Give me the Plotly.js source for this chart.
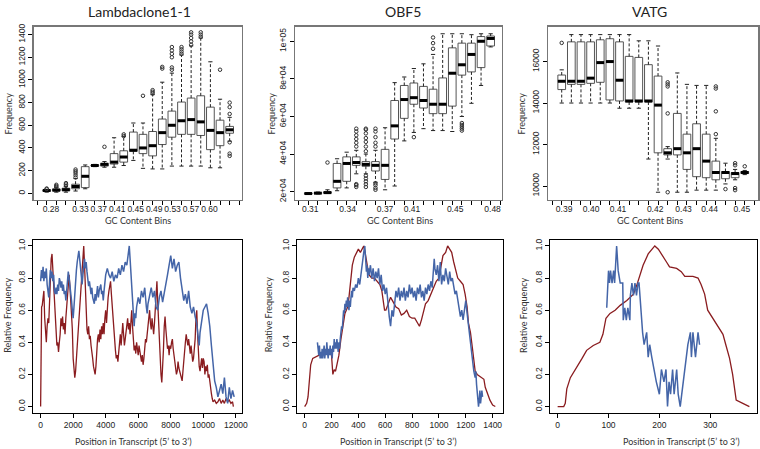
<!DOCTYPE html>
<html>
<head>
<meta charset="utf-8">
<script src="https://cdn.plot.ly/plotly-3.0.1.min.js"></script>
<style>
  html, body { margin: 0; padding: 0; background: #fff; }
  #chart { width: 760px; height: 449px; }
</style>
</head>
<body>
<div id="chart"></div>
<script>
// ---- top row: box statistics per GC content bin (bins numbered 1..20) ----
const lamQ1  = [18, 20, 22, 40, 50, 240, 240, 258, 275, 370, 350, 330, 430, 495, 520, 520, 510, 385, 420, 530];
const lamMed = [25, 28, 32, 60, 150, 245, 255, 275, 320, 380, 400, 420, 535, 600, 640, 650, 630, 555, 535, 560];
const lamQ3  = [30, 38, 45, 80, 235, 250, 265, 350, 375, 540, 520, 545, 655, 725, 805, 840, 860, 760, 645, 590];
const lamLo  = [10, 10, 10, 20, 40, 235, 230, 230, 245, 290, 220, 215, 215, 240, 240, 240, 240, 225, 225, 460];
const lamHi  = [35, 50, 60, 130, 250, 255, 280, 490, 500, 620, 620, 870, 980, 1060, 1220, 1300, 1370, 1160, 830, 670];
const lamOutBin = [1, 1, 2, 2, 2, 3, 3, 3, 4, 4, 4, 4, 4, 7, 9, 9, 11, 12, 12, 12, 13, 13,
  14, 14, 14, 14, 14, 14, 15, 15, 15, 15, 16, 16, 16, 16, 16, 17, 17, 17, 19, 20, 20, 20, 20, 20, 20];
const lamOutVal = [38, 42, 55, 65, 75, 65, 78, 90, 140, 160, 180, 195, 210, 410, 505, 520, 860, 880, 895, 910, 1100, 1115,
  1090, 1110, 1200, 1230, 1260, 1290, 1230, 1250, 1270, 1290, 1310, 1340, 1370, 1400, 1420, 1380, 1400, 1420, 1090, 330, 350, 450, 700, 760, 800];
const lamBinLabels = ['0.28', '0.33', '0.37', '0.41', '0.45', '0.49', '0.53', '0.57', '0.60'];

const obfQ1  = [18800, 19000, 19200, 22000, 25500, 34000, 33500, 31000, 26500, 48000, 59000, 66500, 64500, 61500, 61500, 65500, 82000, 83700, 86000, 97500];
const obfMed = [19000, 19200, 19500, 25500, 35000, 35500, 34500, 34000, 34000, 55000, 69000, 70000, 68500, 66500, 66500, 83000, 87500, 93000, 100000, 101500];
const obfQ3  = [19200, 19500, 19900, 35000, 38500, 38500, 36000, 36000, 42500, 68500, 76500, 77800, 76000, 74500, 80500, 96500, 99000, 99000, 102500, 102800];
const obfLo  = [18600, 18800, 19000, 20500, 22000, 29500, 29500, 25000, 21000, 23000, 47000, 51500, 53500, 52500, 52500, 52000, 60000, 67000, 76500, 97000];
const obfHi  = [19400, 19800, 21000, 37500, 41000, 42000, 40000, 42000, 54000, 78000, 81000, 85500, 88000, 93000, 104000, 104000, 104000, 103500, 104000, 104000];
const obfOutBin = [3, 6, 6, 6, 6, 6, 6, 6, 6, 6, 7, 7, 7, 7, 7, 7, 7, 7, 7, 7, 7, 7,
  8, 8, 8, 8, 8, 8, 8, 8, 8, 12, 14, 14, 14, 17, 17, 17, 17, 17];
const obfOutVal = [35500, 44000, 46000, 48000, 50000, 52000, 53500, 22500, 23500, 24000, 41500, 44000, 46500, 48500, 51000, 53000, 53500, 22500, 24000, 25500, 27000, 28500,
  44000, 46000, 49000, 52000, 53500, 21000, 22000, 23500, 24500, 49000, 96000, 99000, 102000, 52500, 53500, 54500, 55500, 56500];
const obfBinLabels = ['0.31', '0.34', '0.37', '0.41', '0.45', '0.48'];

const vatQ1  = [14650, 14900, 14900, 14950, 15000, 14150, 14100, 14050, 14050, 14050, 11600, 11500, 11500, 10800, 10450, 10400, 10300, 10350, 10400, 10600];
const vatMed = [15050, 15050, 15050, 15200, 15950, 16000, 15100, 14100, 14100, 14100, 13900, 11600, 11800, 11600, 11800, 11200, 10650, 10650, 10600, 10650];
const vatQ3  = [15350, 16950, 16950, 16950, 17050, 17100, 16950, 16250, 16200, 15850, 15300, 11800, 13500, 12500, 13000, 12500, 11200, 10700, 10650, 10700];
const vatLo  = [14000, 14000, 14000, 14000, 14000, 14000, 13750, 13750, 13750, 11300, 9700, 11300, 9700, 9700, 9800, 9800, 9800, 10100, 10300, 10550];
const vatHi  = [15600, 17300, 17300, 17300, 17300, 17300, 17300, 17300, 17000, 17000, 16750, 11900, 15450, 14900, 14850, 14850, 12300, 11100, 10800, 10750];
const vatOutBin = [1, 12, 12, 12, 12, 12, 17, 17, 17, 17, 18, 19, 19, 19, 19, 20];
const vatOutVal = [16900, 15000, 14900, 14800, 13500, 9700, 14800, 14700, 13600, 12500, 9850, 11100, 11000, 9900, 9800, 10950];
const vatBinLabels = ['0.39', '0.40', '0.41', '0.42', '0.43', '0.44', '0.45'];

// ---- bottom row: relative coverage along the transcript ----
const lamRedX = [0, 30, 60, 100, 150, 200, 250, 300, 350, 400, 450, 500, 550, 600, 650, 700, 750, 800, 850, 900, 950, 1000, 1050, 1100, 1150, 1200, 1250, 1300, 1350, 1400, 1450, 1500, 1550, 1600, 1650, 1700, 1750, 1800, 1850, 1900, 1950,
  2000, 2050, 2100, 2150, 2200, 2250, 2300, 2350, 2400, 2450, 2500, 2550, 2600, 2650, 2700, 2750, 2800, 2850, 2900, 2950, 3000, 3050, 3100, 3150, 3200, 3250, 3300, 3350, 3400, 3450, 3500, 3550, 3600, 3650, 3700, 3750, 3800, 3850, 3900, 3950,
  4000, 4050, 4100, 4150, 4200, 4250, 4300, 4350, 4400, 4450, 4500, 4550, 4600, 4650, 4700, 4750, 4800, 4850, 4900, 4950, 5000, 5050, 5100, 5150, 5200, 5300, 5350, 5400, 5450, 5500, 5550, 5600, 5650, 5700, 5750, 5800, 5850, 5900, 5950,
  6000, 6050, 6100, 6150, 6200, 6250, 6300, 6350, 6400, 6450, 6500, 6550, 6600, 6650, 6700, 6750, 6800, 6850, 6900, 6950, 7000, 7050, 7100, 7150, 7200, 7250, 7300, 7350, 7400, 7450, 7500, 7550, 7600, 7650, 7700, 7750, 7800, 7850, 7900, 7950,
  8000, 8050, 8100, 8150, 8200, 8250, 8300, 8350, 8400, 8450, 8500, 8550, 8600, 8650, 8700, 8750, 8800, 8850, 8900, 8950, 9000, 9050, 9100, 9150, 9200, 9250, 9300, 9350, 9400, 9450, 9500, 9550, 9600, 9650, 9700, 9750, 9800, 9850, 9900, 9950,
  10000, 10050, 10100, 10150, 10200, 10250, 10300, 10350, 10400, 10450, 10500, 10550, 10600, 10700, 10800, 10900, 11000, 11100, 11200, 11300, 11400, 11500, 11600, 11700, 11800, 11850];
const lamRedY = [0, 0.4, 0.62, 0.63, 0.7, 0.72, 0.55, 0.42, 0.4, 0.5, 0.55, 0.52, 0.7, 0.78, 0.92, 0.95, 0.85, 0.72, 0.62, 0.55, 0.5, 0.38, 0.4, 0.34, 0.4, 0.45, 0.55, 0.5, 0.56, 0.48, 0.52, 0.45, 0.55, 0.62, 0.7, 0.8, 0.82, 0.75, 0.68, 0.6, 0.48,
  0.3, 0.2, 0.18, 0.22, 0.3, 0.4, 0.42, 0.55, 0.62, 0.7, 0.8, 0.88, 0.95, 1.0, 0.88, 0.72, 0.58, 0.48, 0.45, 0.5, 0.42, 0.44, 0.38, 0.35, 0.3, 0.25, 0.22, 0.2, 0.25, 0.35, 0.42, 0.45, 0.4, 0.48, 0.42, 0.5, 0.45, 0.52, 0.45, 0.55,
  0.6, 0.52, 0.62, 0.68, 0.72, 0.76, 0.78, 0.7, 0.62, 0.55, 0.48, 0.4, 0.35, 0.3, 0.32, 0.28, 0.35, 0.42, 0.45, 0.38, 0.48, 0.52, 0.45, 0.38, 0.42, 0.5, 0.55, 0.48, 0.52, 0.45, 0.55, 0.6, 0.5, 0.42, 0.35, 0.38, 0.33, 0.4, 0.36,
  0.32, 0.38, 0.35, 0.3, 0.28, 0.32, 0.26, 0.3, 0.36, 0.42, 0.4, 0.45, 0.5, 0.55, 0.6, 0.52, 0.48, 0.55, 0.5, 0.45, 0.52, 0.62, 0.72, 0.78, 0.65, 0.52, 0.4, 0.3, 0.2, 0.15, 0.22, 0.35, 0.5, 0.56, 0.48, 0.4, 0.36, 0.38, 0.32, 0.38,
  0.36, 0.4, 0.42, 0.36, 0.32, 0.28, 0.25, 0.2, 0.22, 0.28, 0.24, 0.22, 0.2, 0.18, 0.16, 0.22, 0.3, 0.36, 0.4, 0.45, 0.42, 0.38, 0.42, 0.36, 0.33, 0.38, 0.32, 0.28, 0.3, 0.35, 0.42, 0.55, 0.6, 0.45, 0.32, 0.25, 0.22, 0.28, 0.3, 0.24,
  0.3, 0.28, 0.2, 0.25, 0.22, 0.26, 0.18, 0.2, 0.15, 0.12, 0.08, 0.05, 0.03, 0.04, 0.02, 0.03, 0.05, 0.02, 0.04, 0.02, 0.05, 0.03, 0.04, 0.02, 0.03, 0];
const lamBlueX = [0, 50, 100, 150, 200, 250, 300, 350, 400, 450, 500, 550, 600, 650, 700, 750, 800, 850, 900, 950, 1000, 1050, 1100, 1150, 1200, 1250, 1300, 1350, 1400, 1450, 1500, 1550, 1600, 1650, 1700, 1750, 1800, 1850, 1900, 1950,
  2000, 2050, 2100, 2150, 2200, 2250, 2300, 2350, 2400, 2450, 2500, 2550, 2600, 2650, 2700, 2750, 2800, 2850, 2900, 2950, 3000, 3050, 3100, 3150, 3200, 3300, 3350, 3400, 3450, 3500, 3550, 3600, 3700, 3750, 3800, 3850, 3900, 3950,
  4000, 4100, 4200, 4300, 4400, 4500, 4600, 4700, 4800, 4900, 5000, 5100, 5200, 5300, 5400, 5450, 5500, 5550, 5600, 5650, 5700, 5750, 5800, 5850, 5900,
  6000, 6100, 6200, 6300, 6400, 6500, 6550, 6600, 6700, 6800, 6900, 7000, 7100, 7200, 7300, 7400, 7500, 7600, 7700, 7800, 7900,
  8000, 8050, 8100, 8200, 8300, 8400, 8500, 8600, 8700, 8800, 8900, 9000, 9100, 9200, 9300, 9400, 9500, 9600, 9700, 9750, 9800, 9900,
  10000, 10100, 10200, 10300, 10400, 10500, 10600, 10700, 10800, 10900, 11000, 11100, 11200, 11300, 11400, 11500, 11600, 11700, 11800, 11900];
const lamBlueY = [0.78, 0.85, 0.8, 0.87, 0.78, 0.84, 0.8, 0.86, 0.76, 0.72, 0.68, 0.78, 0.85, 0.8, 0.84, 0.78, 0.82, 0.72, 0.7, 0.74, 0.7, 0.76, 0.72, 0.8, 0.78, 0.74, 0.78, 0.72, 0.76, 0.7, 0.72, 0.66, 0.72, 0.78, 0.84, 0.8, 0.76, 0.72, 0.66, 0.6,
  0.55, 0.62, 0.72, 0.8, 0.85, 0.9, 0.94, 0.97, 0.92, 0.86, 0.8, 0.76, 0.82, 0.88, 0.92, 0.86, 0.9, 0.84, 0.78, 0.75, 0.78, 0.72, 0.7, 0.74, 0.68, 0.64, 0.7, 0.66, 0.72, 0.75, 0.68, 0.72, 0.76, 0.7, 0.72, 0.66, 0.72, 0.78,
  0.82, 0.86, 0.82, 0.8, 0.84, 0.78, 0.82, 0.8, 0.86, 0.82, 0.88, 0.84, 0.9, 0.88, 0.95, 1.0, 0.92, 0.82, 0.72, 0.62, 0.55, 0.5, 0.58, 0.55, 0.62,
  0.68, 0.64, 0.72, 0.68, 0.74, 0.62, 0.58, 0.64, 0.7, 0.74, 0.68, 0.72, 0.62, 0.6, 0.68, 0.72, 0.65, 0.7, 0.76, 0.82, 0.88,
  0.94, 0.9, 0.86, 0.92, 0.84, 0.88, 0.9, 0.8, 0.72, 0.66, 0.7, 0.64, 0.72, 0.62, 0.58, 0.62, 0.56, 0.52, 0.42, 0.38, 0.46, 0.55,
  0.6, 0.62, 0.64, 0.58, 0.5, 0.38, 0.26, 0.16, 0.12, 0.06, 0.1, 0.14, 0.08, 0.18, 0.06, 0.02, 0.12, 0.05, 0.1, 0.06];

const obfRedX = [0, 15, 25, 35, 45, 60, 80, 100, 130, 160, 190, 200, 205, 210, 220, 230, 240, 255, 270, 285, 300, 310, 320, 330, 340, 355, 370, 385, 400, 415, 430, 440, 450, 460, 470, 480, 500, 520, 540, 560, 575, 585, 595, 605,
  620, 640, 660, 680, 700, 720, 740, 760, 780, 800, 820, 840, 855, 870, 885, 900, 920, 940, 960, 980, 1000, 1015, 1030, 1050, 1065, 1080, 1095, 1110, 1125, 1140, 1160, 1180, 1195, 1210, 1220, 1235, 1250, 1260, 1270, 1285,
  1300, 1320, 1335, 1345, 1360, 1380, 1400, 1420];
const obfRedY = [0, 0.02, 0.06, 0.18, 0.26, 0.3, 0.31, 0.32, 0.33, 0.34, 0.34, 0.32, 0.22, 0.2, 0.23, 0.22, 0.26, 0.32, 0.42, 0.5, 0.58, 0.6, 0.62, 0.68, 0.78, 0.88, 0.93, 0.96, 0.98, 0.96, 0.98, 1.0, 0.96, 0.9, 0.86, 0.82, 0.8, 0.8, 0.78, 0.76, 0.72, 0.66, 0.6, 0.6,
  0.64, 0.68, 0.65, 0.62, 0.61, 0.57, 0.58, 0.6, 0.56, 0.55, 0.55, 0.52, 0.5, 0.54, 0.6, 0.64, 0.66, 0.7, 0.74, 0.78, 0.8, 0.86, 0.94, 0.96, 1.0, 0.98, 0.96, 0.9, 0.84, 0.8, 0.78, 0.76, 0.7, 0.62, 0.52, 0.46, 0.36, 0.28, 0.22, 0.2,
  0.19, 0.18, 0.17, 0.12, 0.08, 0.04, 0.01, 0];
const obfBlueX = [95, 100, 105, 110, 115, 120, 125, 130, 135, 140, 145, 150, 155, 160, 165, 170, 175, 180, 185, 190, 195, 200, 205, 210, 215, 220, 225, 230, 235, 240, 245, 250, 255, 260, 265, 270, 275, 280, 285, 290, 295,
  300, 305, 310, 315, 320, 325, 330, 335, 340, 345, 350, 355, 360, 370, 380, 390, 400, 410, 420, 430, 440, 448, 455, 460, 465, 470, 475, 480, 490, 500, 510, 520, 530, 540, 550, 560, 570, 580, 590,
  600, 610, 620, 630, 640, 645, 650, 660, 670, 680, 690, 700, 710, 720, 730, 740, 750, 760, 770, 780, 790, 800, 810, 820, 830, 840, 850, 860, 870, 880, 890, 900, 910, 920, 930, 940, 950, 960, 965, 970, 980, 990,
  1000, 1005, 1010, 1015, 1020, 1030, 1040, 1050, 1060, 1070, 1080, 1090, 1100, 1110, 1120, 1130, 1140, 1150, 1160, 1170, 1180, 1190, 1200, 1210, 1220, 1230, 1240, 1250, 1260, 1270, 1275, 1280, 1290, 1295,
  1300, 1305, 1310, 1315, 1320, 1325];
const obfBlueY = [0.4, 0.36, 0.32, 0.38, 0.3, 0.34, 0.3, 0.36, 0.3, 0.34, 0.38, 0.3, 0.36, 0.32, 0.4, 0.34, 0.3, 0.36, 0.32, 0.38, 0.32, 0.36, 0.3, 0.38, 0.34, 0.42, 0.36, 0.4, 0.36, 0.42, 0.38, 0.34, 0.4, 0.36, 0.42, 0.46, 0.5, 0.48, 0.56, 0.6, 0.58,
  0.64, 0.6, 0.66, 0.62, 0.68, 0.64, 0.6, 0.66, 0.62, 0.68, 0.72, 0.68, 0.74, 0.72, 0.76, 0.74, 0.8, 0.76, 0.84, 0.9, 0.96, 1.0, 0.92, 0.84, 0.88, 0.8, 0.86, 0.82, 0.88, 0.8, 0.86, 0.78, 0.84, 0.8, 0.86, 0.76, 0.82, 0.72, 0.76,
  0.7, 0.74, 0.64, 0.56, 0.5, 0.54, 0.6, 0.56, 0.66, 0.72, 0.68, 0.74, 0.66, 0.72, 0.68, 0.74, 0.66, 0.72, 0.68, 0.76, 0.7, 0.74, 0.68, 0.72, 0.66, 0.74, 0.7, 0.76, 0.68, 0.72, 0.66, 0.74, 0.7, 0.76, 0.72, 0.78, 0.74, 0.84, 0.92, 0.86, 0.82, 0.88,
  0.78, 0.84, 0.9, 0.82, 0.76, 0.82, 0.78, 0.86, 0.8, 0.76, 0.84, 0.78, 0.8, 0.74, 0.7, 0.72, 0.66, 0.62, 0.56, 0.6, 0.54, 0.6, 0.66, 0.58, 0.5, 0.42, 0.34, 0.3, 0.22, 0.18, 0.22, 0.14, 0.06, 0,
  0.04, 0.1, 0.02, 0.08, 0.1, 0.06];

const vatRedX = [0, 12, 15, 18, 25, 38, 48, 57, 70, 83, 89, 95, 103, 113, 123, 136, 149, 155, 162, 168, 178, 188, 191, 198, 207, 214, 220, 234, 243, 250, 266, 276, 282, 289, 295, 305, 315, 325, 331, 338, 344, 348, 351, 364, 377];
const vatRedY = [0, 0, 0.02, 0.11, 0.18, 0.245, 0.3, 0.35, 0.38, 0.4, 0.45, 0.55, 0.58, 0.6, 0.63, 0.66, 0.7, 0.75, 0.82, 0.88, 0.95, 0.99, 1.0, 0.98, 0.93, 0.9, 0.87, 0.86, 0.84, 0.81, 0.81, 0.8, 0.76, 0.7, 0.6, 0.55, 0.5, 0.45, 0.38, 0.3, 0.2, 0.1, 0.04, 0.02, 0];
const vatBlueX = [96.5, 100, 102, 104, 107, 110, 112, 116, 119, 123, 128, 129, 132, 135, 138, 142, 143, 146, 149, 152, 155, 158, 160, 165, 167, 170, 175, 178, 181, 185, 189, 194, 200, 204, 209, 213, 216, 219, 222, 226, 229,
  232, 234, 237, 241, 244, 250, 253, 256, 261, 263, 266, 269, 271, 276, 279];
const vatBlueY = [0.615, 0.846, 0.769, 0.846, 0.769, 0.846, 0.769, 1.0, 0.846, 0.769, 0.769, 0.538, 0.615, 0.538, 0.615, 0.538, 0.692, 0.769, 0.692, 0.769, 0.692, 0.769, 0.769, 0.538, 0.462, 0.385, 0.462, 0.308, 0.385, 0.308, 0.231,
  0.154, 0.077, 0.231, 0.154, 0.231, 0, 0.154, 0.077, 0.231, 0.077, 0.154, 0.231, 0.077, 0, 0.077, 0.231, 0.308, 0.385, 0.462, 0.308, 0.462, 0.385, 0.308, 0.462, 0.385];

const RED = '#8a1c1f';
const BLUE = '#4465a8';

function boxSet(q1, med, q3, lo, hi, outBin, outVal, xa, ya) {
  const bins = q1.map((v, i) => i + 1);
  // dashed whiskers, R style
  const wx = [], wy = [];
  bins.forEach((b, i) => {
    wx.push(b, b, null, b, b, null);
    wy.push(q3[i], hi[i], null, q1[i], lo[i], null);
  });
  return [
    { type: 'scatter', mode: 'lines', x: wx, y: wy, xaxis: xa, yaxis: ya,
      line: { color: '#222', width: 1, dash: '3px,2px' }, hoverinfo: 'skip' },
    { type: 'scatter', mode: 'markers', x: bins.concat(bins), y: hi.concat(lo), xaxis: xa, yaxis: ya,
      marker: { symbol: 'line-ew', size: 3, color: '#222', line: { color: '#222', width: 1 } }, hoverinfo: 'skip' },
    { type: 'box', x: bins, q1: q1, median: med, q3: q3, lowerfence: q1, upperfence: q3,
      xaxis: xa, yaxis: ya, width: 0.8, whiskerwidth: 0, boxpoints: false,
      fillcolor: '#ffffff', line: { color: '#555', width: 1 } },
    { type: 'scatter', mode: 'markers', x: bins, y: med, xaxis: xa, yaxis: ya,
      marker: { symbol: 'line-ew', size: 5.5, color: '#000', line: { color: '#000', width: 3 } }, hoverinfo: 'skip' },
    { type: 'scatter', mode: 'markers', x: outBin, y: outVal, xaxis: xa, yaxis: ya,
      marker: { symbol: 'circle-open', size: 3.5, color: '#333', line: { color: '#333', width: 1 } }, hoverinfo: 'skip' }
  ];
}

function lineSet(rx, ry, bx, by, xa, ya) {
  return [
    { type: 'scatter', mode: 'lines', x: rx, y: ry, xaxis: xa, yaxis: ya, line: { color: RED, width: 1.3 } },
    { type: 'scatter', mode: 'lines', x: bx, y: by, xaxis: xa, yaxis: ya, line: { color: BLUE, width: 1.5 } }
  ];
}

const traces = [].concat(
  boxSet(lamQ1, lamMed, lamQ3, lamLo, lamHi, lamOutBin, lamOutVal, 'x', 'y'),
  boxSet(obfQ1, obfMed, obfQ3, obfLo, obfHi, obfOutBin, obfOutVal, 'x2', 'y2'),
  boxSet(vatQ1, vatMed, vatQ3, vatLo, vatHi, vatOutBin, vatOutVal, 'x3', 'y3'),
  lineSet(lamRedX, lamRedY, lamBlueX, lamBlueY, 'x4', 'y4'),
  lineSet(obfRedX, obfRedY, obfBlueX, obfBlueY, 'x5', 'y5'),
  lineSet(vatRedX, vatRedY, vatBlueX, vatBlueY, 'x6', 'y6')
);

const tickFont = { family: 'Liberation Sans, Arial, sans-serif', size: 8.5, color: '#222' };

function ax(extra) {
  return Object.assign({
    showline: true, mirror: true, linecolor: '#000', linewidth: 1,
    showgrid: false, zeroline: false, ticks: 'outside', ticklen: 4, tickcolor: '#000',
    tickfont: tickFont, fixedrange: true, tickangle: 0, exponentformat: 'none'
  }, extra);
}

function binAxis(domain, range, vals, text, anchor) {
  return ax({
    domain: domain, range: range, anchor: anchor, linecolor: '#777', linewidth: 1.5,
    tickmode: 'array', tickvals: vals, ticktext: text, ticks: '',
    minor: { ticks: 'outside', ticklen: 4, tickcolor: '#000', tickmode: 'linear', tick0: 1, dtick: 1, showgrid: false }
  });
}

const topY = [0.5546, 0.9399];
const botY = [0.0802, 0.4655];

const layout = {
  width: 760, height: 449,
  margin: { l: 0, r: 0, t: 0, b: 0 },
  paper_bgcolor: '#fff', plot_bgcolor: '#fff',
  showlegend: false,
  xaxis:  binAxis([0.0447, 0.3184], [-0.32, 21.28], [1.45, 4.5, 6.41, 8.33, 10.24, 12.16, 14.07, 15.99, 17.9], lamBinLabels, 'y'),
  xaxis2: binAxis([0.3882, 0.6605], [-0.38, 21.18], [1.2, 5.1, 9, 11.8, 16.3, 20.2], obfBinLabels, 'y2'),
  xaxis3: binAxis([0.7211, 0.9974], [-0.42, 21.38], [1.25, 4.05, 6.85, 10.7, 13.65, 16.35, 19.7], vatBinLabels, 'y3'),
  yaxis:  ax({ domain: topY, range: [-59, 1467], anchor: 'x', linecolor: '#777', linewidth: 1.5, tickangle: -90,
               tickmode: 'array', tickvals: [0, 200, 400, 600, 800, 1000, 1200, 1400] }),
  yaxis2: ax({ domain: topY, range: [15575, 107600], anchor: 'x2', linecolor: '#777', linewidth: 1.5, tickangle: -90,
               tickmode: 'array', tickvals: [20000, 40000, 60000, 80000, 100000],
               ticktext: ['2e+04', '4e+04', '6e+04', '8e+04', '1e+05'] }),
  yaxis3: ax({ domain: topY, range: [9326, 17667], anchor: 'x3', linecolor: '#777', linewidth: 1.5, tickangle: -90,
               tickmode: 'array', tickvals: [10000, 12000, 14000, 16000], tickformat: 'd' }),
  xaxis4: ax({ domain: [0.0434, 0.3184], range: [-470, 12380], anchor: 'y4', tickmode: 'linear', tick0: 0, dtick: 2000, tickformat: 'd' }),
  xaxis5: ax({ domain: [0.3908, 0.6618], range: [-57, 1477], anchor: 'y5', tickmode: 'linear', tick0: 0, dtick: 200, tickformat: 'd' }),
  xaxis6: ax({ domain: [0.7237, 0.9961], range: [-15, 392], anchor: 'y6', tickmode: 'linear', tick0: 0, dtick: 100, tickformat: 'd' }),
  yaxis4: ax({ domain: botY, range: [-0.04, 1.037], anchor: 'x4', tickangle: -90, tickmode: 'linear', tick0: 0, dtick: 0.2, tickformat: '.1f' }),
  yaxis5: ax({ domain: botY, range: [-0.04, 1.037], anchor: 'x5', tickangle: -90, tickmode: 'linear', tick0: 0, dtick: 0.2, tickformat: '.1f' }),
  yaxis6: ax({ domain: botY, range: [-0.04, 1.037], anchor: 'x6', tickangle: -90, tickmode: 'linear', tick0: 0, dtick: 0.2, tickformat: '.1f' }),
  annotations: []
};

const labelFont = { family: 'Lato, Open Sans, sans-serif', size: 9, color: '#333' };
const titleFont = { family: 'Lato, Open Sans, sans-serif', size: 14, color: '#222' };

function note(text, x, y, font, angle) {
  layout.annotations.push({ text: text, x: x, y: y, xref: 'paper', yref: 'paper',
    xanchor: 'center', yanchor: 'middle', showarrow: false, font: font, textangle: angle || 0 });
}

// panel titles
note('Lambdaclone1-1', 0.184, 0.9755, titleFont);
note('OBF5', 0.530, 0.9755, titleFont);
note('VATG', 0.855, 0.9755, titleFont);
// axis titles, top row
note('GC Content Bins', 0.1816, 0.508, labelFont);
note('GC Content Bins', 0.526, 0.508, labelFont);
note('GC Content Bins', 0.855, 0.508, labelFont);
note('Frequency', 0.011, 0.748, labelFont, -90);
note('Frequency', 0.357, 0.748, labelFont, -90);
note('Frequency', 0.686, 0.748, labelFont, -90);
// axis titles, bottom row
note('Position in Transcript (5\u2019 to 3\u2019)', 0.175, 0.0156, labelFont);
note('Position in Transcript (5\u2019 to 3\u2019)', 0.524, 0.0156, labelFont);
note('Position in Transcript (5\u2019 to 3\u2019)', 0.897, 0.0156, labelFont);
note('Relative Frequency', 0.009, 0.2984, labelFont, -90);
note('Relative Frequency', 0.353, 0.2984, labelFont, -90);
note('Relative Frequency', 0.688, 0.2984, labelFont, -90);

Plotly.newPlot('chart', traces, layout, { staticPlot: true, displayModeBar: false });
</script>
</body>
</html>
